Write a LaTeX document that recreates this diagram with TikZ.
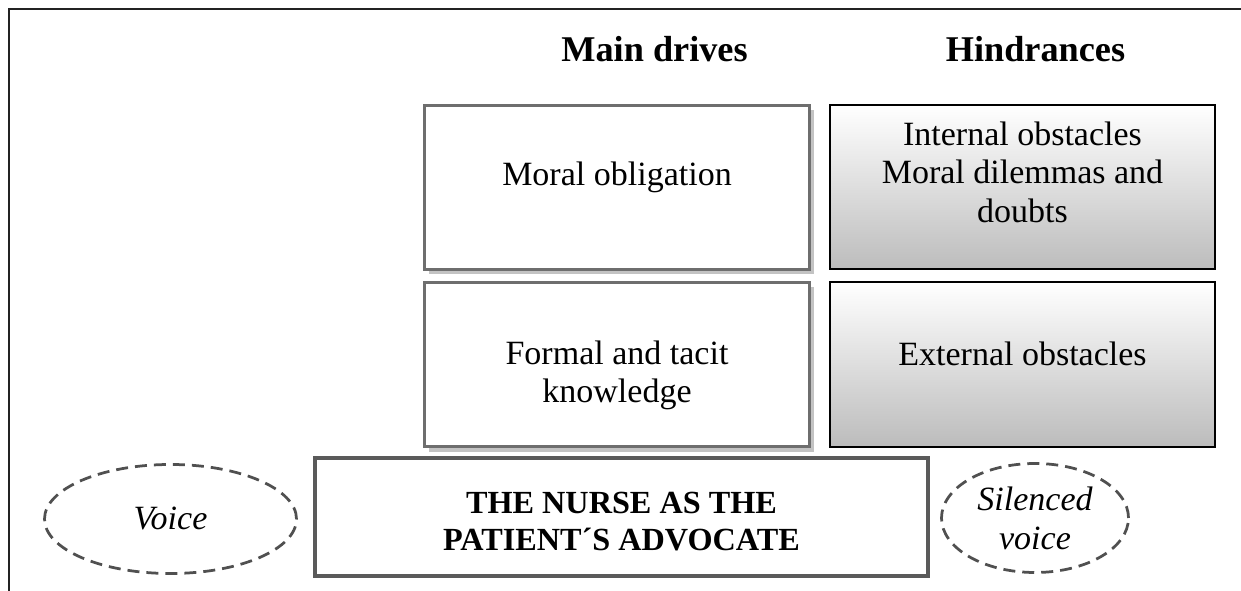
\documentclass[tikz,border=0pt]{standalone}
\usepackage{fontspec}
\setmainfont{Liberation Serif}
\usetikzlibrary{positioning,shadows,shapes.geometric}
\definecolor{framegray}{RGB}{35,35,35}
\definecolor{drivegray}{RGB}{110,110,110}
\definecolor{shadowgray}{RGB}{195,195,195}
\definecolor{hindgray}{RGB}{188,188,188}
\definecolor{nursegray}{RGB}{90,90,90}
\definecolor{dashgray}{RGB}{80,80,80}

\begin{document}
\begin{tikzpicture}
  [
    x=0.4pt,y=-0.4pt,
    every node/.style={font=\fontsize{13.6}{15.4}\selectfont, align=center},
    head/.style={font=\fontsize{14.5}{15.4}\selectfont\bfseries, anchor=base},
    drive/.style={draw=drivegray, line width=1.2pt, fill=white, minimum width=154pt, minimum height=65.6pt,
      drop shadow={shadow xshift=1.6pt, shadow yshift=-2pt, fill=shadowgray, opacity=1}},
    hind/.style={draw=black, line width=0.8pt, top color=white, bottom color=hindgray, minimum width=154pt, minimum height=65.6pt},
    nurse/.style={draw=nursegray, line width=1.6pt, fill=white, minimum width=245.2pt, minimum height=47.2pt},
    txt/.style={inner sep=0pt},
    bold/.style={font=\fontsize{12.9}{14.6}\selectfont\bfseries, inner sep=0pt},
    voice/.style={ellipse, draw=dashgray, line width=1.1pt, dash pattern=on 4.8pt off 2.8pt, inner sep=0pt, font=\fontsize{13.6}{15.6}\selectfont\itshape},
    node distance=4pt and 7.2pt
  ]
  \useasboundingbox (0,0) rectangle (1241,591);
  \draw[framegray, line width=0.8pt] (9,591) -- (9,9) -- (1241,9);

  \node[head] (drives) at (654.5,62) {Main drives};
  \node[head] (hindrances) at (1035.5,62) {Hindrances};

  % boxes
  \node[drive] (moral) at (617,187.5) {};
  \node[hind, right=of moral] (internal) {};
  \node[drive, below=of moral] (knowledge) {};
  \node[hind, right=of knowledge] (external) {};
  \node[nurse] (advocate) at (621.5,517) {};

  % texts
  \node[txt] (moraltext) at ([yshift=4pt]moral.center) {Moral obligation};
  \node[txt] (internaltext) at ([yshift=6.2pt]internal.center) {Internal obstacles\\Moral dilemmas and\\doubts};
  \node[txt] (knowledgetext) at ([yshift=-4.4pt]knowledge.center) {Formal and tacit\\knowledge};
  \node[txt] (externaltext) at ([yshift=4.4pt]external.center) {External obstacles};
  \node[bold] (advocatetext) at ([yshift=-1.8pt]advocate.center) {THE NURSE AS THE\\PATIENT´S ADVOCATE};

  \node[voice, minimum width=100.8pt, minimum height=43.6pt] (voice) at (170.5,519) {Voice};
  \node[voice, minimum width=74.8pt, minimum height=43.6pt] (silenced) at (1035,518) {Silenced\\voice};
\end{tikzpicture}
\end{document}
